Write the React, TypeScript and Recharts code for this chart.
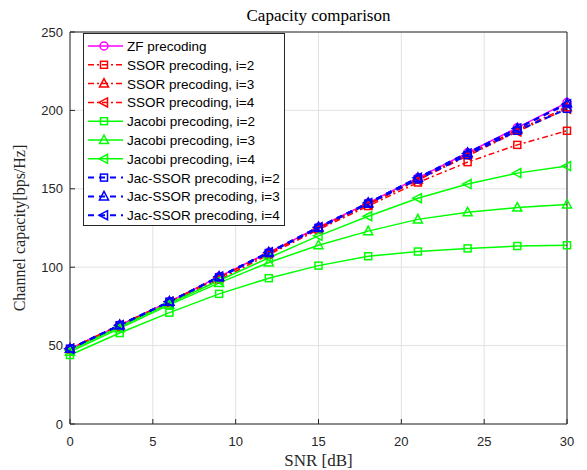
import { LineChart, Line, XAxis, YAxis, CartesianGrid, Legend } from 'recharts';

// SNR points in dB
const snr = [0, 3, 6, 9, 12, 15, 18, 21, 24, 27, 30];

// channel capacity, bps/Hz
const zf = [48, 63, 78, 94, 109.5, 125.5, 141, 157, 173, 189, 205];
const ssor2 = [47.5, 62, 77, 92, 108, 124, 139, 154, 167, 178, 187];
const ssor3 = [48, 63, 78, 93.5, 109, 125, 140.5, 156, 172, 187.5, 202];
const ssor4 = [48, 63, 78, 93.5, 109, 125, 140, 155.5, 171, 186.5, 201];
const jac2 = [44, 58, 71, 83, 93, 101, 107, 110, 112, 113.5, 114];
const jac3 = [46, 61, 76, 90, 103, 114, 123, 130.5, 135, 138, 140];
const jac4 = [47, 62, 77, 91.5, 106, 120, 132.5, 144, 153, 160, 164.5];
const jacSsor2 = [48, 63, 78, 93.5, 109, 125, 140.5, 156, 171.5, 187, 201];
const jacSsor3 = [48, 63, 78, 94, 109.5, 125.5, 141, 157, 173, 188.5, 204.5];
const jacSsor4 = [48, 63, 78, 94, 109.5, 125.5, 141, 157, 172.5, 188.5, 204];

const xTicks = [0, 5, 10, 15, 20, 25, 30];
const yTicks = [0, 50, 100, 150, 200, 250];

const data = snr.map((s, i) => ({
    snr: s,
    zf: zf[i],
    ssor2: ssor2[i],
    ssor3: ssor3[i],
    ssor4: ssor4[i],
    jac2: jac2[i],
    jac3: jac3[i],
    jac4: jac4[i],
    js2: jacSsor2[i],
    js3: jacSsor3[i],
    js4: jacSsor4[i],
}));

const RED = '#ff0000';
const GREEN = '#00ff00';
const BLUE = '#0000ff';
const MAGENTA = '#ff00ff';
const AXIS = '#262626';

const series = [
    { key: 'zf', name: 'ZF precoding', color: MAGENTA, dash: undefined, shape: 'circle', width: 1.5 },
    { key: 'ssor2', name: 'SSOR precoding, i=2', color: RED, dash: '6 3 2 3', shape: 'square', width: 1.5 },
    { key: 'ssor3', name: 'SSOR precoding, i=3', color: RED, dash: '6 3 2 3', shape: 'up', width: 1.5 },
    { key: 'ssor4', name: 'SSOR precoding, i=4', color: RED, dash: '6 3 2 3', shape: 'left', width: 1.5 },
    { key: 'jac2', name: 'Jacobi precoding, i=2', color: GREEN, dash: undefined, shape: 'square', width: 1.5 },
    { key: 'jac3', name: 'Jacobi precoding, i=3', color: GREEN, dash: undefined, shape: 'up', width: 1.5 },
    { key: 'jac4', name: 'Jacobi precoding, i=4', color: GREEN, dash: undefined, shape: 'left', width: 1.5 },
    { key: 'js2', name: 'Jac-SSOR precoding, i=2', color: BLUE, dash: '6 5', shape: 'square', width: 2 },
    { key: 'js3', name: 'Jac-SSOR precoding, i=3', color: BLUE, dash: '6 5', shape: 'up', width: 2 },
    { key: 'js4', name: 'Jac-SSOR precoding, i=4', color: BLUE, dash: '6 5', shape: 'left', width: 2 },
];

function marker(shape: string, cx: number, cy: number, color: string, key?: string) {
    const sw = 1.5;
    if (shape === 'circle') {
        return <circle key={key} cx={cx} cy={cy} r={4} fill="none" stroke={color} strokeWidth={sw} />;
    }
    if (shape === 'square') {
        return <rect key={key} x={cx - 3.5} y={cy - 3.5} width={7} height={7} fill="none" stroke={color} strokeWidth={sw} />;
    }
    if (shape === 'up') {
        const p = `${cx},${cy - 5} ${cx - 4.5},${cy + 3.5} ${cx + 4.5},${cy + 3.5}`;
        return <polygon key={key} points={p} fill="none" stroke={color} strokeWidth={sw} />;
    }
    const p = `${cx - 5},${cy} ${cx + 3.5},${cy - 4.5} ${cx + 3.5},${cy + 4.5}`;
    return <polygon key={key} points={p} fill="none" stroke={color} strokeWidth={sw} />;
}

function renderLegend() {
    const rowH = 18.8;
    return (
        <div style={{ width: 202, height: 193, background: '#fff', border: `1px solid ${AXIS}`, boxSizing: 'border-box' }}>
            <svg width={200} height={191}>
                {series.map((s, i) => {
                    const y = 12 + i * rowH;
                    return (
                        <g key={s.key}>
                            <line x1={4} x2={39} y1={y} y2={y} stroke={s.color} strokeWidth={s.width} strokeDasharray={s.dash} />
                            {marker(s.shape, 20, y, s.color)}
                            <text x={43} y={y + 5} fontSize={13.5} fontFamily="Liberation Sans, Arial, sans-serif" fill="#000">{s.name}</text>
                        </g>
                    );
                })}
            </svg>
        </div>
    );
}

const tickStyle = { fontSize: 13, fontFamily: 'Liberation Sans, Arial, sans-serif', fill: AXIS };
const serif = 'Liberation Serif, Times New Roman, serif';

export default function App() {
    return (
        <div style={{ position: 'absolute', left: 0, top: 0, width: 587, height: 470, background: '#fff' }}>
            <LineChart width={587} height={470} data={data} margin={{ top: 2, right: 0, bottom: 6, left: 30 }}>
                <CartesianGrid stroke="#e2e2e2" strokeWidth={1} />
                <XAxis dataKey="snr" type="number" domain={[0, 30]} ticks={xTicks} height={40}
                    stroke={AXIS} tick={tickStyle} tickSize={-5} tickMargin={18}
                    label={{ value: 'SNR [dB]', position: 'insideBottom', offset: -1.5, style: { fontFamily: serif, fontSize: 17, fill: AXIS } }} />
                <XAxis xAxisId="top" orientation="top" dataKey="snr" type="number" domain={[0, 30]} ticks={xTicks} height={30}
                    stroke={AXIS} tick={false} tickSize={-5}
                    label={{ value: 'Capacity comparison', position: 'insideTop', offset: 7, style: { fontFamily: serif, fontSize: 17, fill: '#000' } }} />
                <YAxis type="number" domain={[0, 250]} ticks={yTicks} width={40}
                    stroke={AXIS} tick={tickStyle} tickSize={-5} tickMargin={12}
                    label={{
                        content: () => (
                            <text x={25} y={228} transform="rotate(-90 25 228)" textAnchor="middle"
                                fontFamily={serif} fontSize={16} fill={AXIS}>Channel capacity[bps/Hz]</text>
                        ),
                    }} />
                <YAxis yAxisId="right" orientation="right" type="number" domain={[0, 250]} ticks={yTicks} width={20}
                    stroke={AXIS} tick={false} tickSize={-5} />
                {series.map((s) => (
                    <Line key={s.key} dataKey={s.key} name={s.name} type="linear" stroke={s.color}
                        strokeWidth={s.width} strokeDasharray={s.dash} isAnimationActive={false}
                        dot={(p: any) => marker(s.shape, p.cx, p.cy, s.color, `${s.key}-${p.index}`)}
                        activeDot={false} />
                ))}
                <Legend layout="vertical" verticalAlign="middle" align="center" content={renderLegend}
                    wrapperStyle={{ left: 83, top: 33, width: 202, height: 193 }} />
            </LineChart>
        </div>
    );
}
